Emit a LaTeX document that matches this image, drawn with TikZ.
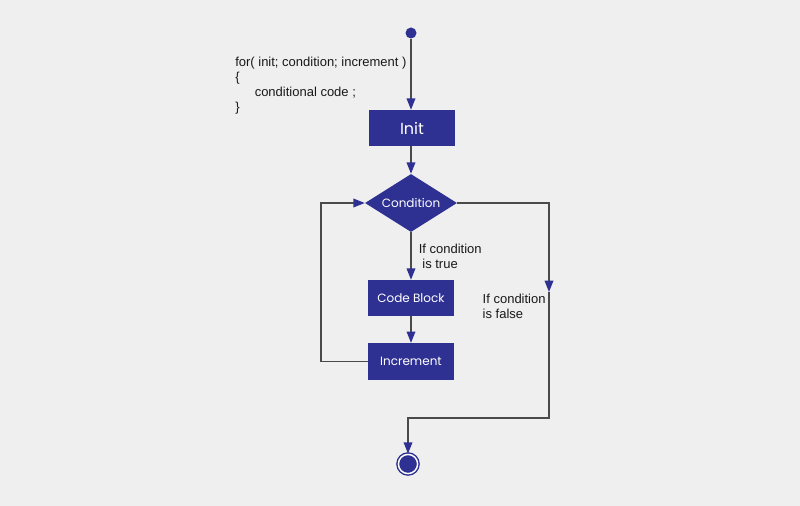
\documentclass[tikz,border=0pt]{standalone}
\usepackage{fontspec}
\setmainfont{Liberation Sans}
\newfontfamily\boxfont{Poppins}
\usetikzlibrary{arrows.meta,shapes.geometric}
\definecolor{flowblue}{HTML}{2E3192}
\definecolor{flowline}{HTML}{4A4A4A}
\definecolor{flowbg}{HTML}{EFEFEF}
\begin{document}
\begin{tikzpicture}[x=0.75pt,y=-0.75pt,
  flow/.style={draw=flowline, line width=1pt,
    -{Triangle[width=6.5pt,length=8.5pt,color=flowblue]}},
  stepbox/.style={rectangle, fill=flowblue, text=white, inner sep=0pt,
    minimum width=64pt, minimum height=27pt, font=\boxfont\fontsize{9}{11}\selectfont},
  decision/.style={diamond, fill=flowblue, text=white, inner sep=0pt, aspect=1.6,
    minimum width=69pt, minimum height=43.5pt, font=\boxfont\fontsize{9}{11}\selectfont},
  note/.style={font=\fontsize{9.75}{11.25}\selectfont, text=black!90, align=left}]

\fill[flowbg] (0,0) rectangle (800,506);
\useasboundingbox (0,0) rectangle (800,506);

% the code of the loop
\node (code) [note, anchor=north west, inner sep=0pt] at (235,57) {for( init; condition; increment )\\
{\{}\\
\hspace{1.5em}conditional code ;\\
\}};

\node (start) [circle, fill=flowblue, inner sep=0pt, minimum size=8.25pt] at (411,33) {};
\node (init) [stepbox, font=\boxfont\fontsize{12}{14}\selectfont] at (412,128) {Init};
\node (cond) [decision] at (411,203) {Condition};
\node (body) [stepbox] at (411,298) {Code Block};
\node (incr) [stepbox, minimum height=27.5pt] at (411,361.5) {Increment};
\node (stop) [circle, fill=flowblue, draw=flowblue, double=white, double distance=1.1pt,
  line width=1.1pt, inner sep=0pt, minimum size=14.4pt] at (408,464) {};

\coordinate (loop1) at (321,361.5);
\coordinate (loop2) at (321,203);
\coordinate (out1) at (549,203);
\coordinate (out2) at (549,292);
\coordinate (out3) at (549,418);
\coordinate (out4) at (408,418);

\draw[flow] (start) -- (start |- init.north);
\draw[flow] (init.south -| start) -- (cond);
\draw[flow] (cond) -- (body) node[note, pos=0.5, right=2pt] {If condition\\\ is true};
\draw[flow] (body) -- (incr);
\draw[flow] (incr.west) -- (loop1) -- (loop2) -- (cond.west);
\draw[flow] (cond.east) -- (out1) -- (out2);
\draw[flow] (out2) -- (out3) -- (out4) -- (stop);
\node (false) [note, anchor=west] at (478,306) {If condition\\is false};
\end{tikzpicture}
\end{document}
